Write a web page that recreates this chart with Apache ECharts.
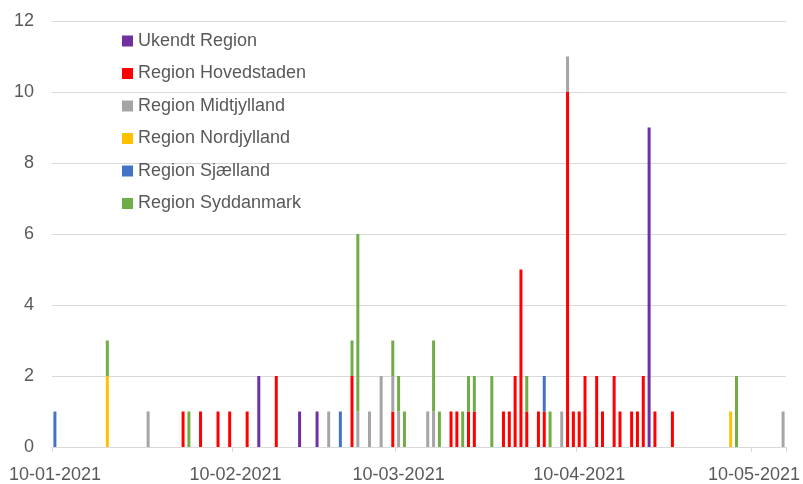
<!DOCTYPE html>
<html>
<head>
<meta charset="utf-8">
<script src="https://cdn.jsdelivr.net/npm/echarts@6/dist/echarts.min.js"></script>
<style>html,body{margin:0;padding:0;background:#fff}#c{width:803px;height:484px}</style>
</head>
<body>
<div id="c"></div>
<script>
// Axis range (daily categories)
var startDate = '2021-01-10';
var endDate = '2021-05-15';
var yTicks = [0, 2, 4, 6, 8, 10, 12];

var seriesNames = ['Ukendt Region', 'Region Hovedstaden', 'Region Midtjylland', 'Region Nordjylland', 'Region Sjælland', 'Region Syddanmark'];
var seriesColors = ['#7030A0', '#FF0000', '#A5A5A5', '#FFC000', '#4472C4', '#70AD47'];

// [date, count]
var ukendt = [['2021-02-14',2],['2021-02-21',1],['2021-02-24',1],['2021-04-22',9]];
var hovedstaden = [['2021-02-01',1],['2021-02-04',1],['2021-02-07',1],['2021-02-09',1],['2021-02-12',1],['2021-02-17',2],
  ['2021-03-02',2],['2021-03-09',1],['2021-03-19',1],['2021-03-20',1],['2021-03-22',1],['2021-03-23',1],['2021-03-28',1],
  ['2021-03-29',1],['2021-03-30',2],['2021-03-31',5],['2021-04-01',1],['2021-04-03',1],['2021-04-04',1],['2021-04-08',10],
  ['2021-04-09',1],['2021-04-10',1],['2021-04-11',2],['2021-04-13',2],['2021-04-14',1],['2021-04-16',2],['2021-04-17',1],
  ['2021-04-19',1],['2021-04-20',1],['2021-04-21',2],['2021-04-23',1],['2021-04-26',1]];
var midtjylland = [['2021-01-26',1],['2021-02-26',1],['2021-03-03',1],['2021-03-05',1],['2021-03-07',2],['2021-03-09',1],
  ['2021-03-10',1],['2021-03-15',1],['2021-03-16',1],['2021-04-07',1],['2021-04-08',1],['2021-05-15',1]];
var nordjylland = [['2021-01-19',2],['2021-05-06',1]];
var sjaelland = [['2021-01-10',1],['2021-02-28',1],['2021-04-04',1]];
var syddanmark = [['2021-01-19',1],['2021-02-02',1],['2021-03-02',1],['2021-03-03',5],['2021-03-09',1],['2021-03-10',1],
  ['2021-03-11',1],['2021-03-16',2],['2021-03-17',1],['2021-03-21',1],['2021-03-22',1],['2021-03-23',1],['2021-03-26',2],
  ['2021-04-01',1],['2021-04-05',1],['2021-05-07',2]];

var seriesData = [ukendt, hovedstaden, midtjylland, nordjylland, sjaelland, syddanmark];

// build daily category list
function pad(n){return (n<10?'0':'')+n;}
var isoDays = [];
var categories = [];
(function(){
  var d = new Date(startDate + 'T00:00:00Z');
  var e = new Date(endDate + 'T00:00:00Z');
  while (d <= e) {
    var y = d.getUTCFullYear(), m = pad(d.getUTCMonth()+1), dd = pad(d.getUTCDate());
    isoDays.push(y + '-' + m + '-' + dd);
    categories.push(dd + '-' + m + '-' + y);
    d = new Date(d.getTime() + 86400000);
  }
})();

function fill(arr){
  var map = {};
  arr.forEach(function(p){ map[p[0]] = p[1]; });
  return isoDays.map(function(k){ return map[k] !== undefined ? map[k] : 0; });
}

var font = 'Liberation Sans, Arial, sans-serif';
var chart = echarts.init(document.getElementById('c'));
chart.setOption({
  animation: false,
  backgroundColor: '#fff',
  grid: { left: 52, right: 17, top: 21, bottom: 36 },
  legend: {
    orient: 'vertical',
    left: 117,
    top: 26,
    itemWidth: 11,
    itemHeight: 11,
    itemGap: 12.5,
    icon: 'rect',
    textStyle: { color: '#595959', fontSize: 18, fontFamily: font, lineHeight: 20 },
    data: seriesNames
  },
  xAxis: {
    type: 'category',
    data: categories,
    boundaryGap: true,
    axisLine: { lineStyle: { color: '#D9D9D9', width: 1 } },
    axisTick: {
      show: true, length: 5, alignWithLabel: false,
      lineStyle: { color: '#D9D9D9' },
      interval: function(i, v){ return v.slice(0,2) === '10'; }
    },
    axisLabel: {
      color: '#595959', fontSize: 18, fontFamily: font, margin: 19,
      interval: function(i, v){ return v.slice(0,2) === '10'; }
    }
  },
  yAxis: {
    type: 'value',
    min: yTicks[0], max: yTicks[yTicks.length-1], interval: 2,
    axisLine: { show: false },
    axisTick: { show: false },
    splitLine: { lineStyle: { color: '#D9D9D9', width: 1 } },
    axisLabel: { color: '#595959', fontSize: 18, fontFamily: font, margin: 18 }
  },
  series: seriesNames.map(function(n, i){
    return {
      name: n, type: 'bar', stack: 'all', barWidth: 3,
      itemStyle: { color: seriesColors[i] },
      data: fill(seriesData[i])
    };
  })
});
</script>
</body>
</html>
